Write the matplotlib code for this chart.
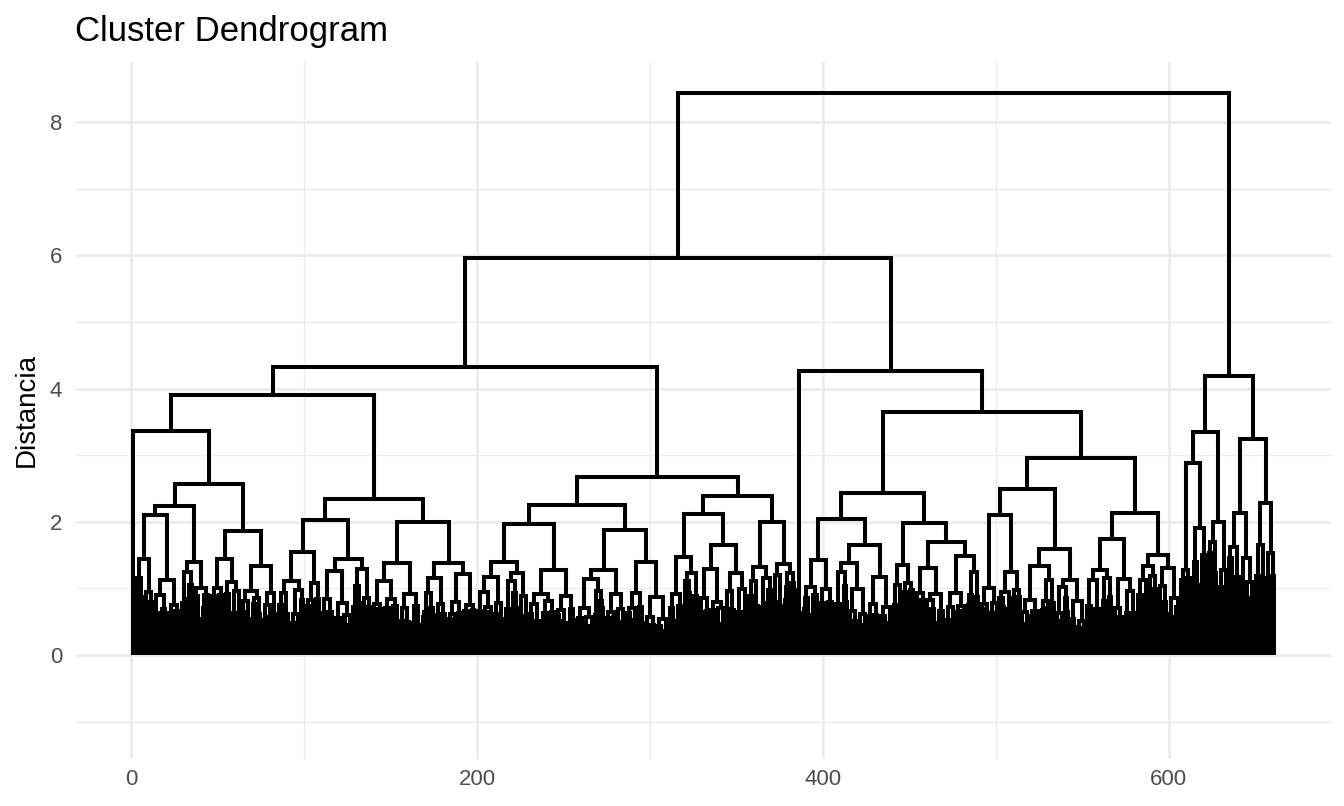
import matplotlib
matplotlib.use("Agg")
import matplotlib.pyplot as plt
from matplotlib.collections import LineCollection

plt.rcParams['font.family'] = ['Liberation Sans', 'DejaVu Sans']

# leaf groups along the bottom, left to right: number of leaves and height of their top merge
group_sizes = [1, 11, 16, 17, 18, 21, 25, 29, 30, 31,
               30, 28, 29, 24, 18, 15, 13, 14, 14, 4,
               18, 19, 15, 12, 19, 19, 11, 13, 20, 18,
               15, 14, 12, 13, 7, 4, 5, 6, 6, 7, 8, 7, 5]
group_heights = [0.0, 1.44, 1.13, 1.39, 1.44, 1.34, 1.55, 1.44, 1.38, 1.38,
                 1.40, 1.27, 1.27, 1.40, 1.47, 1.29, 1.23, 1.32, 1.36, 0.63,
                 1.42, 1.38, 1.17, 1.35, 1.30, 1.49, 1.00, 1.25, 1.34, 1.13,
                 1.28, 1.14, 1.34, 1.30, 1.28, 1.40, 1.50, 1.70, 1.28, 1.62,
                 1.45, 1.65, 1.53]

# upper merges, hclust style: -k = group k, +k = merge row k
merge_left = [-2, 1, -5, 2, -1, -7, -9, 6, 5, -11,
              -13, 10, -16, -15, -18, 14, 12, 9, -22, -21,
              -25, -24, 20, -27, -29, 24, -31, -33, 27, 26,
              23, -20, 18, -36, -35, -38, 35, -40, -42, 38,
              37, 33]
merge_right = [-3, -4, -6, 3, 4, -8, -10, 7, 8, -12,
               -14, 11, -17, 13, -19, 15, 16, 17, -23, 19,
               -26, 21, 22, -28, -30, 25, -32, -34, 28, 29,
               30, 31, 32, -37, 34, -39, 36, -41, -43, 39,
               40, 41]
merge_height = [2.10, 2.24, 1.86, 2.57, 3.36, 2.03, 1.99, 2.34, 3.91, 1.97,
                1.87, 2.25, 1.65, 2.12, 1.99, 2.38, 2.67, 4.32, 1.65, 2.04,
                1.70, 1.98, 2.43, 2.10, 1.59, 2.49, 1.74, 1.50, 2.13, 2.96,
                3.65, 4.27, 5.96, 1.91, 2.88, 1.99, 3.35, 2.13, 2.28, 3.24,
                4.19, 8.44]

# pattern for the dense part under each group (not readable in the picture)
inner_split = [0.5, 0.42, 0.58, 0.47, 0.36, 0.55, 0.62, 0.45]
inner_ratio = [0.8, 0.7, 0.88, 0.66, 0.76, 0.9, 0.62, 0.78, 0.72, 0.84]

segs = []
count = [0]


def grow(start, n, h):
    if n == 1:
        return start, 0.0
    i = count[0]
    count[0] += 1
    nl = min(n - 1, max(1, round(n * inner_split[i % len(inner_split)])))
    hl = h * inner_ratio[i % len(inner_ratio)]
    hr = h * inner_ratio[(i + 3) % len(inner_ratio)]
    xl, yl = grow(start, nl, hl)
    xr, yr = grow(start + nl, n - nl, hr)
    segs.append([(xl, yl), (xl, h), (xr, h), (xr, yr)])
    return (xl + xr) / 2, h


groups = []
start = 1
for n, h in zip(group_sizes, group_heights):
    groups.append(grow(start, n, h))
    start += n

nodes = []
for a, b, h in zip(merge_left, merge_right, merge_height):
    xl, yl = groups[-a - 1] if a < 0 else nodes[a - 1]
    xr, yr = groups[-b - 1] if b < 0 else nodes[b - 1]
    segs.append([(xl, yl), (xl, h), (xr, h), (xr, yr)])
    nodes.append(((xl + xr) / 2, h))

fig = plt.figure(figsize=(13.44, 8.06), dpi=100)
ax = fig.add_axes([76 / 1344, 1 - 759 / 806, 1255 / 1344, 697 / 806])

lc = LineCollection(segs, colors='black', linewidths=2.9,
                    capstyle='butt', joinstyle='miter', zorder=3)
ax.add_collection(lc)

ax.set_xlim(-32, 694)
ax.set_ylim(-1.56, 8.90)
ax.set_xticks([0, 200, 400, 600])
ax.set_xticks([100, 300, 500], minor=True)
ax.set_yticks([0, 2, 4, 6, 8])
ax.set_yticks([-1, 1, 3, 5, 7], minor=True)
ax.grid(which='major', color='#EBEBEB', linewidth=1.8)
ax.grid(which='minor', color='#EBEBEB', linewidth=0.9)
ax.set_axisbelow(True)
for s in ax.spines.values():
    s.set_visible(False)
ax.tick_params(which='both', length=0)
ax.tick_params(axis='x', pad=7, labelsize=16, labelcolor='#4D4D4D')
ax.tick_params(axis='y', pad=10, labelsize=16, labelcolor='#4D4D4D')

ax.set_ylabel('Distancia', fontsize=20, labelpad=7)
fig.text(75 / 1344, 1 - 41 / 806, 'Cluster Dendrogram', fontsize=25,
         ha='left', va='baseline')

fig.savefig('out.png', dpi=100)
